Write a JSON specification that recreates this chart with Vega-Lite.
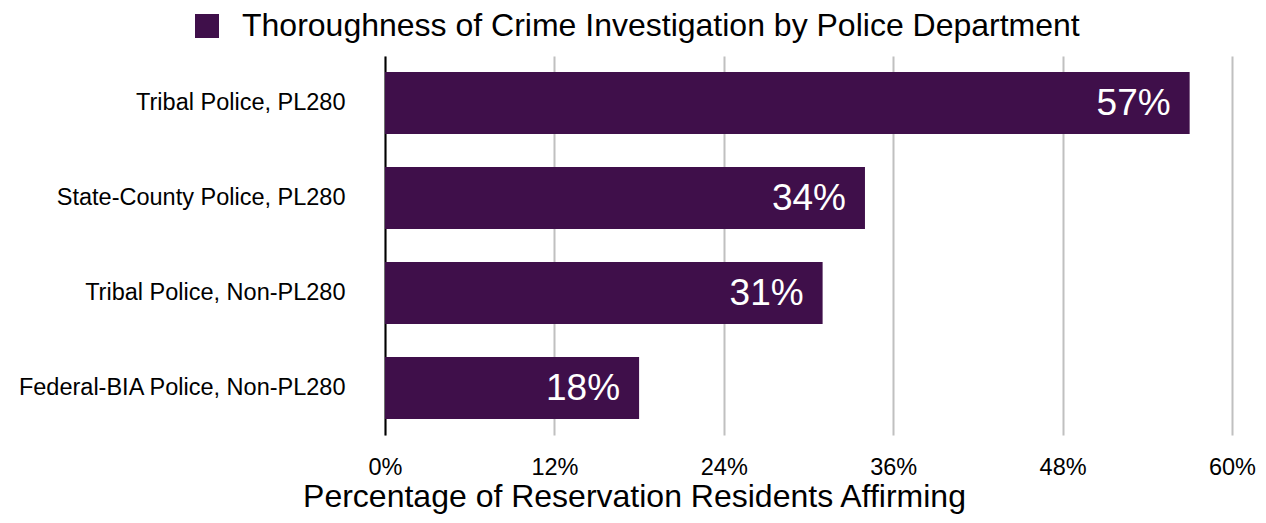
{
  "$schema": "https://vega.github.io/schema/vega-lite/v6.json",
  "width": 847,
  "height": 379,
  "autosize": {"type": "none"},
  "padding": {"left": 385, "top": 56, "right": 34, "bottom": 88},
  "background": "white",
  "config": {
    "view": {"stroke": null},
    "font": "Liberation Sans"
  },
  "data": {
    "values": [
      {"dept": "Tribal Police, PL280", "pct": 0.57, "series": "Thoroughness of Crime Investigation by Police Department"},
      {"dept": "State-County Police, PL280", "pct": 0.34, "series": "Thoroughness of Crime Investigation by Police Department"},
      {"dept": "Tribal Police, Non-PL280", "pct": 0.31, "series": "Thoroughness of Crime Investigation by Police Department"},
      {"dept": "Federal-BIA Police, Non-PL280", "pct": 0.18, "series": "Thoroughness of Crime Investigation by Police Department"}
    ]
  },
  "encoding": {
    "y": {
      "field": "dept",
      "type": "nominal",
      "sort": null,
      "scale": {"paddingInner": 0.347, "paddingOuter": 0.168},
      "axis": {
        "title": null,
        "domain": true,
        "domainColor": "#000000",
        "domainWidth": 2,
        "ticks": false,
        "labelFontSize": 23.5,
        "labelColor": "#000000",
        "labelPadding": 40,
        "labelLimit": 400
      }
    },
    "x": {
      "field": "pct",
      "type": "quantitative",
      "scale": {"domain": [0, 0.6], "nice": false},
      "axis": {
        "title": "Percentage of Reservation Residents Affirming",
        "titleFontSize": 32,
        "titleFontWeight": "normal",
        "titleColor": "#000000",
        "titleX": 249,
        "titleY": 46,
        "titleAlign": "center",
        "titleBaseline": "top",
        "values": [0, 0.12, 0.24, 0.36, 0.48, 0.6],
        "format": ".0%",
        "labelFlush": false,
        "labelFontSize": 23.5,
        "labelColor": "#000000",
        "labelPadding": 20,
        "domain": false,
        "ticks": false,
        "grid": true,
        "gridColor": "#c0c0c0",
        "gridWidth": 2
      }
    }
  },
  "layer": [
    {
      "mark": {"type": "bar"},
      "encoding": {
        "color": {
          "field": "series",
          "type": "nominal",
          "scale": {"range": ["#3f0f4a"]},
          "legend": {
            "title": null,
            "orient": "none",
            "legendX": -194,
            "legendY": -46,
            "symbolType": "square",
            "symbolSize": 576,
            "symbolStrokeWidth": 0,
            "labelFontSize": 32,
            "labelColor": "#000000",
            "labelLimit": 1000,
            "labelOffset": 19
          }
        }
      }
    },
    {
      "mark": {"type": "text", "align": "right", "baseline": "middle", "dx": -19, "dy": 1, "color": "#ffffff", "fontSize": 37},
      "encoding": {
        "text": {"field": "pct", "type": "quantitative", "format": ".0%"}
      }
    }
  ]
}
